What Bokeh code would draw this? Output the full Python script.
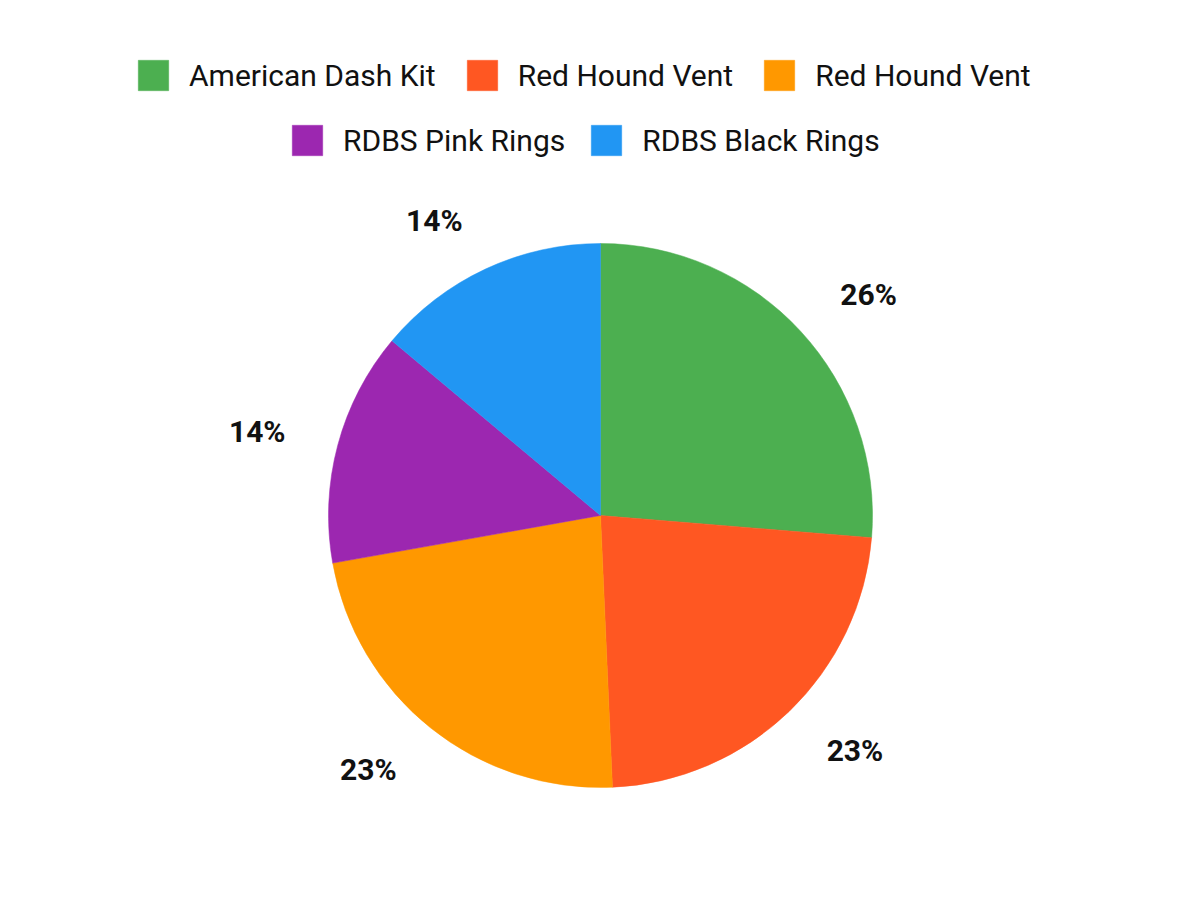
import numpy as np
from bokeh.plotting import figure
from bokeh.models import Range1d, Legend, LegendItem, ColumnDataSource
from bokeh.core.properties import value
from bokeh.embed import file_html
from bokeh.resources import INLINE

# ---- data ----
names = ["American Dash Kit", "Red Hound Vent", "Red Hound Vent",
         "RDBS Pink Rings", "RDBS Black Rings"]
shares = [26.3, 23.0, 22.9, 13.9, 13.9]
colors = ["#4CAF50", "#FF5722", "#FF9800", "#9C27B0", "#2196F3"]

# ---- geometry (data units == screen px, y flipped) ----
CX, CY = 600, 900 - 515
R = 272
RL = 326

vals = np.array(shares, dtype=float)
frac = vals / vals.sum()
cum = np.concatenate([[0], np.cumsum(frac)])
start = np.pi / 2 - 2 * np.pi * cum[:-1]
end = np.pi / 2 - 2 * np.pi * cum[1:]
mid = (cum[:-1] + cum[1:]) / 2 * 2 * np.pi  # clockwise from top
lx = CX + RL * np.sin(mid)
ly = CY + RL * np.cos(mid)
align = ["left" if s >= 0 else "right" for s in np.sin(mid)]
pct = [f"{round(f * 100):.0f}%" for f in frac]

src = ColumnDataSource(dict(start=start, end=end, color=colors, name=names))
lab = ColumnDataSource(dict(x=lx, y=ly, t=pct, align=align))

p = figure(width=1184, height=884, x_range=Range1d(0, 1184), y_range=Range1d(16, 900),
           output_backend="svg", toolbar_location=None, min_border=0)
p.axis.visible = False
p.grid.visible = False
p.outline_line_color = None

r = p.wedge(x=CX, y=CY, radius=R, start_angle="start", end_angle="end",
            direction="clock", fill_color="color", line_color="color",
            line_width=0.5, source=src)

p.text(x="x", y="y", text="t", text_align="align", text_baseline="middle",
       text_font=value("Roboto"), text_font_style="bold", text_font_size="30px",
       text_color="#111111", source=lab)

def make_legend(idx, loc, spacing):
    items = [LegendItem(label=names[i], renderers=[r], index=i) for i in idx]
    leg = Legend(items=items, orientation="horizontal", location=loc,
                 glyph_width=38, glyph_height=38, label_height=38,
                 label_standoff=17, spacing=spacing, padding=0, margin=0,
                 label_text_font="Roboto", label_text_font_size="30px",
                 label_text_color="#111111", label_text_baseline="middle",
                 border_line_alpha=0, background_fill_alpha=0)
    p.add_layout(leg, "center")

make_legend([0, 1, 2], (134, 884 - 94), 27)
make_legend([3, 4], (288, 884 - 159), 22)

open("out.html", "w").write(file_html(p, INLINE))
